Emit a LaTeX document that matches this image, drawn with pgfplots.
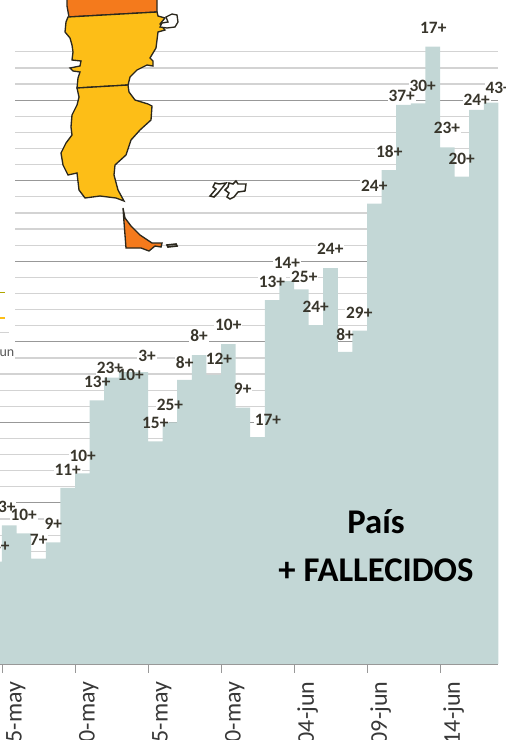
\documentclass[border=0pt]{standalone}
\usepackage{pgfplots}
\pgfplotsset{compat=1.18}
\usepackage{fontspec}
\setmainfont{Carlito}
\definecolor{bar}{HTML}{C3D7D6}
\definecolor{lab}{HTML}{38352B}
\definecolor{gridg}{HTML}{D3D3D3}
\definecolor{gridd}{HTML}{989898}
\definecolor{myel}{HTML}{FDBE17}
\definecolor{morg}{HTML}{F47A1C}
\definecolor{mline}{HTML}{2B281E}
\newcommand{\lab}[4]{}
\newcommand{\alllabels}{%
\lab{10.5}{546}{14+}{east}\lab{16.5}{507}{13+}{east}\lab{23.7}{515}{10+}{center}\lab{38.7}{540}{7+}{center}\lab{53.3}{524.3}{9+}{center}%
\lab{67.7}{470}{11+}{center}\lab{82.7}{455.7}{10+}{center}\lab{97.3}{381.7}{13+}{center}\lab{110}{368}{23+}{center}\lab{130.7}{374.7}{10+}{center}%
\lab{147}{356}{3+}{center}\lab{155.3}{423.3}{15+}{center}\lab{170}{405}{25+}{center}\lab{184.7}{362.7}{8+}{center}\lab{199}{336}{8+}{center}%
\lab{219}{359.3}{12+}{center}\lab{228.3}{325}{10+}{center}\lab{242.7}{389.3}{9+}{center}\lab{268}{420}{17+}{center}\lab{272}{281.7}{13+}{center}%
\lab{287}{263.3}{14+}{center}\lab{304.3}{276.7}{25+}{center}\lab{315.7}{307.3}{24+}{center}\lab{330.3}{249.3}{24+}{center}\lab{345}{334.3}{8+}{center}%
\lab{359.3}{313.3}{29+}{center}\lab{374.3}{186}{24+}{center}\lab{389.3}{151.7}{18+}{center}\lab{401.7}{95.7}{37+}{center}\lab{422.7}{86.3}{30+}{center}%
\lab{433.3}{28.3}{17+}{center}\lab{447}{128.3}{23+}{center}\lab{461.7}{159.3}{20+}{center}\lab{476.7}{100}{24+}{center}\lab{498.7}{87.7}{43+}{center}}
\pgfplotsset{
 dataaxis/.style={at={(0pt,57pt)},anchor=south west,scale only axis,width=373.8pt,height=483.3pt,
   xmin=-0.137,xmax=34,ymin=0,ymax=400},
 pixaxis/.style={at={(0pt,0pt)},anchor=south west,scale only axis,width=379.5pt,height=555pt,
   xmin=0,xmax=506,ymin=0,ymax=740,y dir=reverse,hide axis,clip=false}
}
\begin{document}
\begin{tikzpicture}
\clip[use as bounding box] (0pt,0pt) rectangle (379.5pt,555pt);
% grid and date axis
\begin{axis}[dataaxis,
  axis x line*=bottom,axis y line*=left,
  x axis line style={draw=gridd,line width=0.7pt,-},
  y axis line style={draw=none},
  ymajorgrids,ytick={10,20,30,40,60,70,80,90,110,120,130,140,160,170,180,190,210,220,230,240,260,270,280,290,310,320,330,340,360,370,380},
  extra y ticks={50,100,150,200,250,300,350},
  extra y tick labels={},
  yticklabels={},
  ytick style={draw=none},
  extra y tick style={grid=major,major grid style={draw=gridd,line width=0.7pt},tick style={draw=none}},
  major grid style={draw=gridg,line width=0.9pt},
  xtick={0,5,10,15,20,25,30},
  xticklabels={15-may,20-may,25-may,30-may,04-jun,09-jun,14-jun},
  xtick style={draw=gridd,line width=0.7pt},
  tick align=outside,major tick length=6.5pt,
  xticklabel style={xshift=10.3pt,yshift=-3.2pt,rotate=90,anchor=east,font=\fontsize{18}{21}\selectfont,text=black!78},
]
\addplot[draw=none] coordinates {(0,0) (34,0)};
\end{axis}
% white boxes behind the labels
\begin{axis}[pixaxis]
\renewcommand{\lab}[4]{\node[anchor=#4,fill=white,inner sep=0.6pt,font=\fontsize{13}{15}\bfseries\selectfont] at (axis cs:#1,#2) {\phantom{#3}};}
\alllabels
\addplot[fill=white,draw=none] coordinates {(0,0) (15,0) (15,362) (0,362)} --cycle;
\end{axis}
% deaths
\begin{axis}[dataaxis,hide axis]
\addplot[const plot mark left,fill=bar,draw=none] coordinates {
(-1,63.5) (0,86.1) (1,81.1) (2,65.4) (3,75.5) (4,109.4) (5,118.4) (6,163.7) (7,177.7) (8,181.1)
(9,181.1) (10,138.2) (11,150.0) (12,176.3) (13,191.8) (14,179.4) (15,198.6) (16,159.1) (17,140.9)
(18,225.9) (19,237.7) (20,232.6) (21,210.4) (22,245.8) (23,193.7) (24,206.9) (25,285.7) (26,306.6)
(27,347.0) (28,348.0) (29,383.2) (30,320.7) (31,302.5) (32,343.9) (33,348.4) (34,348.4)
} \closedcycle;
\end{axis}
% map, labels and text
\begin{axis}[pixaxis]
\addplot[fill=morg,draw=mline,line width=1pt] coordinates {(67,-3) (67,6) (69,17) (157,12) (157,-3)} --cycle;
\addplot[fill=myel,draw=mline,line width=1pt] coordinates {(68,17) (157,12) (158,16) (165,18) (160,24) (165,30) (158,32) (156,48) (150,58) (153,61) (153,66) (147,65) (137,70) (130,77) (128,85)
 (77,88) (78,78) (80,72) (73,71) (70,68) (80,66) (81,61) (72,60) (73,52) (72,45) (70,38) (65,32) (66,22)} --cycle;
\addplot[fill=myel,draw=mline,line width=1pt] coordinates {(77,88) (128,85) (129,92) (135,100) (148,104) (152,106) (151,120) (140,130) (131,140) (126,155) (115,165) (114,175) (118,190) (124,201)
 (116,198) (100,196) (85,198) (79,190) (77,173) (68,175) (63,165) (61,153) (66,143) (72,135) (71,127) (72,115) (77,105) (79,97)} --cycle;
\addplot[fill=white,draw=mline,line width=1pt] coordinates {(166,17) (172,14) (177,15) (178,22) (175,27) (167,28) (160,27) (162,23) (168,22)} --cycle;
\addplot[fill=morg,draw=mline,line width=1pt] coordinates {(123,208) (125,218) (131,226) (140,235) (152,243) (162,243) (161,247) (155,246) (149,251) (141,248) (126,248) (124,222)} --cycle;
\addplot[fill=white,draw=mline,line width=1.2pt] coordinates {(167,245) (176,244) (177,246) (168,247)} --cycle;
\addplot[fill=white,draw=mline,line width=1.1pt] coordinates {(215,183) (219,184) (226,183) (222,188) (218,193) (214,197) (210,196) (216,189) (213,187)} --cycle;
\addplot[fill=white,draw=mline,line width=1.1pt] coordinates {(229,183) (233,184) (236,181) (238,184) (246,184) (245,191) (238,192) (234,197) (230,199) (227,197) (229,193) (225,190) (228,187)} --cycle;
\addplot[draw=olive!70!yellow,line width=1.2pt] coordinates {(0,292.5) (5,292.5)};
\addplot[draw=myel,line width=1.2pt] coordinates {(0,318) (5,318)};
\addplot[draw=gridg,line width=0.7pt] coordinates {(0,332.5) (9,332.5)};
\node[anchor=east,inner sep=0pt,text=black!65,font=\fontsize{10.5}{12}\selectfont] at (axis cs:14.5,353) {un};
\renewcommand{\lab}[4]{\node[anchor=#4,inner sep=0.6pt,text=lab,font=\fontsize{13}{15}\bfseries\selectfont] at (axis cs:#1,#2) {#3};}
\alllabels
\node[font=\fontsize{26}{30}\bfseries\selectfont,text=black] at (axis cs:376,521.7) {País};
\node[font=\fontsize{26}{30}\bfseries\selectfont,text=black] at (axis cs:376,570.7) {+ FALLECIDOS};
\end{axis}
\end{tikzpicture}
\end{document}
